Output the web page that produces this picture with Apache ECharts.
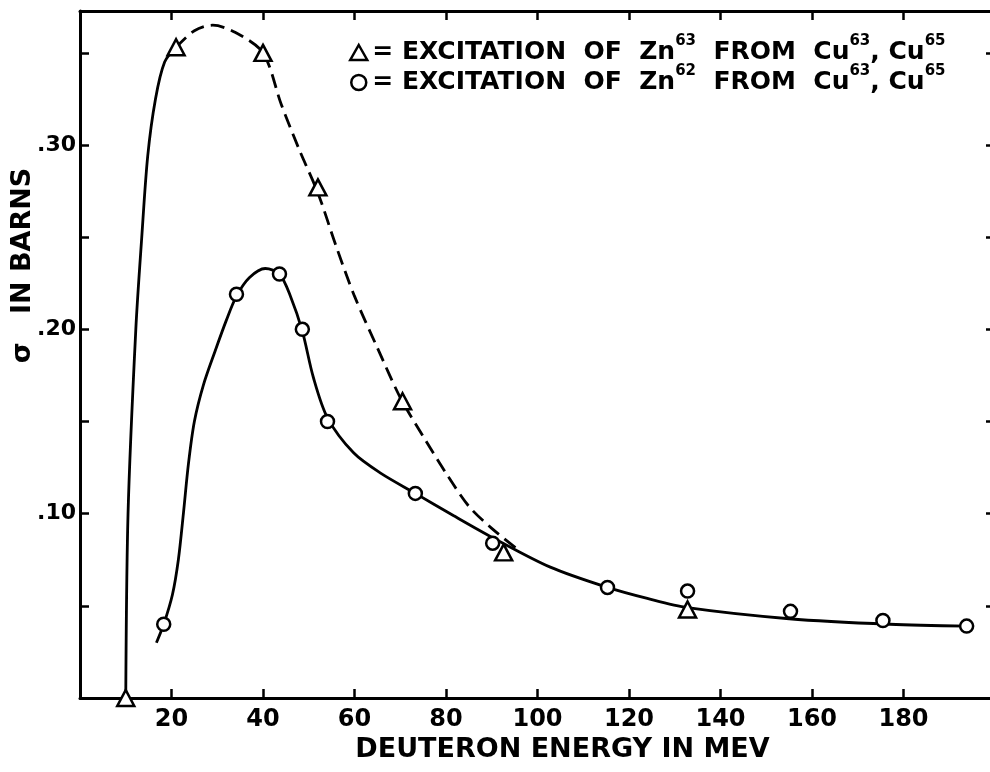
<!DOCTYPE html>
<html>
<head>
<meta charset="utf-8">
<script src="https://cdn.jsdelivr.net/npm/echarts@6/dist/echarts.min.js"></script>
<style>
html,body{margin:0;padding:0;background:#fff}
#chart{width:990px;height:772px}
</style>
</head>
<body>
<div id="chart"></div>
<script>
(()=>{
    "use strict";
    // measured points (deuteron energy in MeV, cross section in barns)
    let zn63Points = [[10,0.0],[21,0.353],[40,0.350],[52,0.277],[70.5,0.161],[92.6,0.079],[132.8,0.048]];
    let zn62Points = [[18.3,0.040],[34.2,0.219],[43.6,0.230],[48.6,0.200],[54.1,0.150],[73.3,0.111],[90.2,0.084],[115.3,0.060],[132.8,0.058],[155.3,0.047],[175.5,0.042],[193.8,0.039]];
    // hand drawn curves
    let zn63RiseCurve = [[10,0],[10.5,0.10],[12.2,0.20],[13.5,0.25],[14.8,0.294],[16.5,0.325],[18.5,0.345],[21,0.353]];
    let zn63DashCurve = [[21,0.353],[25,0.362],[29,0.365],[34,0.361],[40,0.350],[44,0.322],[48,0.297],[52,0.274],[56,0.245],[60,0.218],[65,0.190],[70,0.163],[75,0.142],[80,0.122],[85,0.104],[90,0.092],[96,0.080]];
    let zn62Curve = [[16.7,0.030],[18.3,0.040],[20.2,0.056],[21.5,0.075],[22.6,0.100],[23.7,0.127],[25,0.150],[27,0.170],[29.5,0.188],[32,0.205],[34.2,0.218],[37,0.228],[40.5,0.233],[43.6,0.230],[46,0.218],[48.6,0.199],[51,0.174],[54.1,0.152],[59.8,0.133],[65.7,0.122],[73.3,0.111],[81.6,0.099],[90.2,0.087],[102.8,0.071],[115.3,0.060],[124,0.054],[132.8,0.049],[155,0.043],[177,0.040],[194,0.039]];
    let legendNames = ["Zn63", "Zn62"];
    let legendLabels = {
        "Zn63": "= EXCITATION  OF  Zn{sup|63}  FROM  Cu{sup|63}, Cu{sup|65}",
        "Zn62": "= EXCITATION  OF  Zn{sup|62}  FROM  Cu{sup|63}, Cu{sup|65}"
    };
    let xTitle = "DEUTERON ENERGY IN MEV";
    let yTitle = "\u03c3   IN BARNS";

    let font = "DejaVu Sans";
    let ink = "#000";
    let frameLine = {"show":true, "onZero":false, "lineStyle":{"color":ink, "width":3}};
    let inTick = {"show":true, "inside":true, "length":9, "lineStyle":{"color":ink, "width":2.5}};

    let _chart = echarts.init(document.getElementById("chart"));
    let _chartOption = {
    "animation":false,
    "backgroundColor":"#fff",
    "grid":{"left":80, "right":-5, "top":11, "bottom":74, "containLabel":false, "outerBoundsMode":"none"},
    "legend":{
        "orient":"vertical", "left":349, "top":34, "padding":0, "itemGap":-1,
        "itemWidth":17, "itemHeight":15,
        "data":[{"name":legendNames[0], "icon":"triangle"}, {"name":legendNames[1], "icon":"circle"}],
        "itemStyle":{"color":"#fff", "borderColor":ink, "borderWidth":2.5},
        "formatter":(name)=>legendLabels[name],
        "textStyle":{"fontFamily":font, "fontWeight":"bold", "fontSize":25, "color":ink,
            "rich":{"sup":{"fontFamily":font, "fontWeight":"bold", "fontSize":15, "color":ink, "padding":[0,0,22,0]}}}
    },
    "xAxis":[
        {"type":"value", "min":0, "max":200, "interval":20, "position":"bottom",
         "axisLine":frameLine, "axisTick":inTick, "splitLine":{"show":false},
         "axisLabel":{"margin":10, "fontFamily":font, "fontWeight":"bold", "fontSize":24, "color":ink,
            "formatter":(v)=>(v>0 && v<200) ? String(v) : ""},
         "name":xTitle, "nameLocation":"middle", "nameGap":38, "nameMoveOverlap":false,
         "nameTextStyle":{"fontFamily":font, "fontWeight":"bold", "fontSize":27, "color":ink, "padding":[0,0,0,50]}},
        {"type":"value", "min":0, "max":200, "interval":20, "position":"top",
         "axisLine":frameLine, "axisTick":inTick, "axisLabel":{"show":false}, "splitLine":{"show":false}}
    ],
    "yAxis":[
        {"type":"value", "min":0, "max":0.3727, "interval":0.05, "position":"left",
         "axisLine":frameLine, "axisTick":inTick, "splitLine":{"show":false},
         "axisLabel":{"margin":4, "fontFamily":font, "fontWeight":"bold", "fontSize":22, "color":ink,
            "formatter":(v)=>(v>0.01 && Math.abs(v*10-Math.round(v*10))<1e-6) ? "." + (v*100).toFixed(0) : ""},
         "name":yTitle, "nameLocation":"middle", "nameGap":44, "nameMoveOverlap":false,
         "nameTextStyle":{"fontFamily":font, "fontWeight":"bold", "fontSize":27, "color":ink, "padding":[0,0,0,178]}},
        {"type":"value", "min":0, "max":0.3727, "interval":0.05, "position":"right",
         "axisLine":frameLine, "axisTick":inTick, "axisLabel":{"show":false}, "splitLine":{"show":false}}
    ],
    "series":[
        {"type":"line", "name":"zn63 rise", "data":zn63RiseCurve, "smooth":0.3, "showSymbol":false, "z":2,
         "lineStyle":{"color":ink, "width":2.8}},
        {"type":"line", "name":"zn63 dashed", "data":zn63DashCurve, "smooth":0.3, "showSymbol":false, "z":2,
         "lineStyle":{"color":ink, "width":2.8, "type":[14,7]}},
        {"type":"line", "name":"zn62 curve", "data":zn62Curve, "smooth":0.3, "showSymbol":false, "z":2,
         "lineStyle":{"color":ink, "width":2.8}},
        {"type":"scatter", "name":legendNames[0], "data":zn63Points, "symbol":"triangle", "symbolSize":[17,16], "z":5,
         "itemStyle":{"color":"#fff", "borderColor":ink, "borderWidth":2.5, "opacity":1}},
        {"type":"scatter", "name":legendNames[1], "data":zn62Points, "symbol":"circle", "symbolSize":13, "z":5,
         "itemStyle":{"color":"#fff", "borderColor":ink, "borderWidth":2.5, "opacity":1}}
    ]};
    _chart.setOption(_chartOption);
})();
</script>
</body>
</html>
